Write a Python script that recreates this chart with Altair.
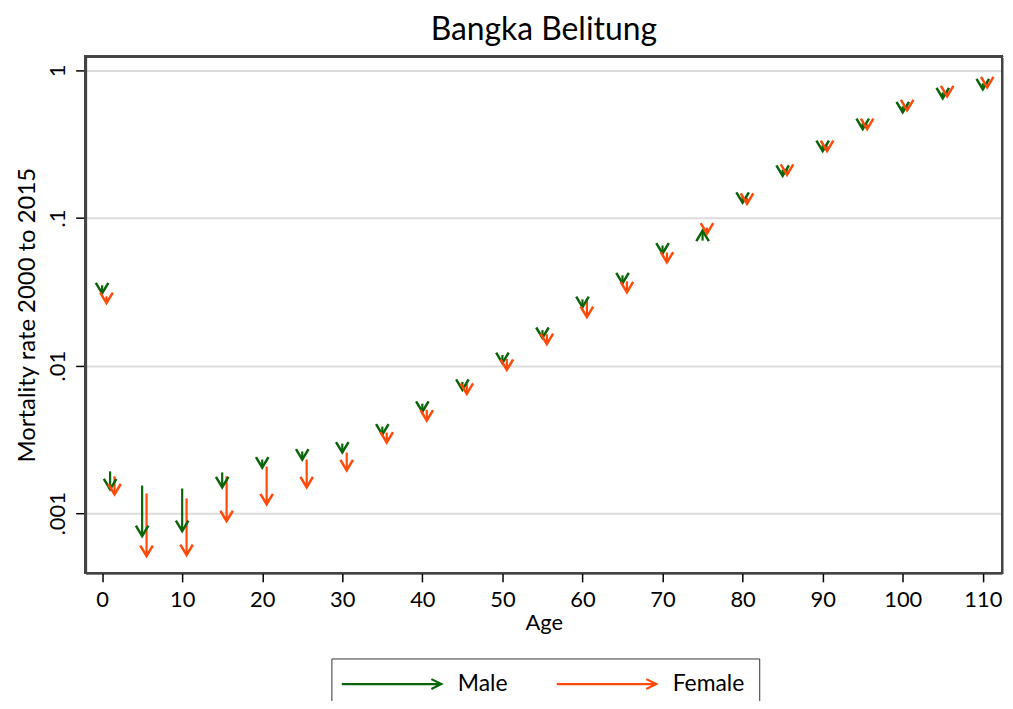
import altair as alt
import pandas as pd

# ---- data ----
ages = [0, 1, 5, 10, 15, 20, 25, 30, 35, 40, 45, 50, 55, 60, 65, 70, 75, 80, 85, 90, 95, 100, 105, 110]
male_2000 = [0.0350, 0.00192, 0.00154, 0.00147, 0.00189, 0.00231, 0.00262, 0.00296, 0.00386, 0.00552,
             0.00776, 0.0118, 0.0174, 0.0281, 0.0409, 0.0651, 0.0703, 0.139, 0.212, 0.312, 0.439,
             0.572, 0.711, 0.818]
male_2015 = [0.0309, 0.00145, 0.000700, 0.000756, 0.00150, 0.00204, 0.00231, 0.00258, 0.00341, 0.00487,
             0.00685, 0.0104, 0.0154, 0.0249, 0.0361, 0.0575, 0.0822, 0.127, 0.193, 0.284, 0.400,
             0.521, 0.648, 0.745]
female_2000 = [0.0295, 0.00178, 0.00136, 0.00126, 0.00178, 0.00207, 0.00231, 0.00258, 0.00352, 0.00502,
               0.00752, 0.0111, 0.0163, 0.0277, 0.0372, 0.0584, 0.0861, 0.137, 0.215, 0.308, 0.432,
               0.590, 0.733, 0.843]
female_2015 = [0.0265, 0.00134, 0.000513, 0.000521, 0.000883, 0.00115, 0.00150, 0.00195, 0.00301, 0.00424,
               0.00644, 0.00935, 0.0140, 0.0213, 0.0314, 0.0500, 0.0784, 0.125, 0.196, 0.284, 0.400,
               0.537, 0.668, 0.768]

sexes = ["Male", "Female"]
colors = ["#0a640a", "#ff4a0a"]
x_ticks = list(range(0, 111, 10))
y_ticks = [0.001, 0.01, 0.1, 1]
y_tick_labels = [".001", ".01", ".1", "1"]

rows = []
for i, a in enumerate(ages):
    rows.append({"sex": "Male", "age": a, "v2000": male_2000[i], "v2015": male_2015[i]})
for i, a in enumerate(ages):
    rows.append({"sex": "Female", "age": a, "v2000": female_2000[i], "v2015": female_2015[i]})
df = pd.DataFrame(rows)

FONT = "Lato"
W, H = 921, 519
label_expr = " : ".join(
    f"abs(datum.value - {v}) < {v * 0.01} ? '{l}'" for v, l in zip(y_ticks, y_tick_labels)
) + " : ''"

head_path = "M -0.6 -1 L 0 0 L 0.6 -1"
legend_path = "M -1.5 0 L 8.5 0 M 7.5 -0.5 L 8.5 0 L 7.5 0.5"

xscale = alt.Scale(domain=[-2.06, 112.4], nice=False, zero=False)
yscale = alt.Scale(type="log", domain=[0.000394, 1.243], nice=False)
cscale = alt.Scale(domain=sexes, range=colors)

base = alt.Chart(df).transform_calculate(
    xpos="datum.age + (datum.sex == 'Female' ? 0.55 : 0)",
    ang="datum.v2015 > datum.v2000 ? 180 : 0",
)

x_enc = alt.X(
    "xpos:Q", scale=xscale, title="Age",
    axis=alt.Axis(values=x_ticks, grid=False, tickSize=9, labelPadding=8, titlePadding=2,
                  domainColor="black", domainWidth=2, tickColor="black", tickWidth=1.5,
                  labelFontSize=22, titleFontSize=22, labelFont=FONT, titleFont=FONT,
                  titleFontWeight="normal", labelColor="black", titleColor="black"),
)
y_enc = alt.Y(
    "v2000:Q", scale=yscale, title="Mortality rate 2000 to 2015",
    axis=alt.Axis(values=y_ticks, labelExpr=label_expr, grid=True, gridColor="#dcdcdc", gridWidth=2,
                  tickSize=10, labelAngle=270, labelAlign="center", labelBaseline="bottom",
                  labelPadding=6, titlePadding=7, domainColor="black", domainWidth=2,
                  tickColor="black", tickWidth=1.5, labelFontSize=22, titleFontSize=24,
                  labelFont=FONT, titleFont=FONT, titleFontWeight="normal",
                  labelColor="black", titleColor="black"),
)

frame = alt.Chart(df).mark_rect(fillOpacity=0, stroke="#444", strokeWidth=2).encode(
    x=alt.value(0), x2=alt.value(W), y=alt.value(0), y2=alt.value(H)
)

shafts = base.mark_rule(strokeWidth=2.2).encode(
    x=x_enc,
    y=y_enc,
    y2="v2015:Q",
    color=alt.Color(
        "sex:N", scale=cscale,
        legend=alt.Legend(
            title=None, orient="none", legendX=247, legendY=605, direction="horizontal",
            symbolType=legend_path, symbolSize=400, symbolStrokeWidth=2.2,
            symbolFillColor="transparent",
            labelFontSize=23, labelFont=FONT, labelColor="black", labelOffset=90,
            columnPadding=44, padding=14, strokeColor="#333", fillColor="white",
        ),
    ),
)

heads = base.mark_point(shape=head_path, size=440, filled=False, strokeWidth=2.5, opacity=1).encode(
    x=alt.X("xpos:Q", scale=xscale),
    y=alt.Y("v2015:Q", scale=yscale),
    angle=alt.Angle("ang:Q", scale=None),
    color=alt.Color("sex:N", scale=cscale, legend=None),
)

chart = alt.layer(frame, shafts, heads).properties(
    width=W,
    height=H,
    title=alt.Title("Bangka Belitung", fontSize=32, font=FONT, fontWeight="normal",
                    color="black", offset=9, anchor="middle"),
    autosize=alt.AutoSizeParams(type="none"),
    padding={"left": 78, "top": 47, "right": 3, "bottom": 127},
).configure_view(stroke=None).configure(background="white")

chart.save("out.html", embed_options={"renderer": "svg", "actions": False})
